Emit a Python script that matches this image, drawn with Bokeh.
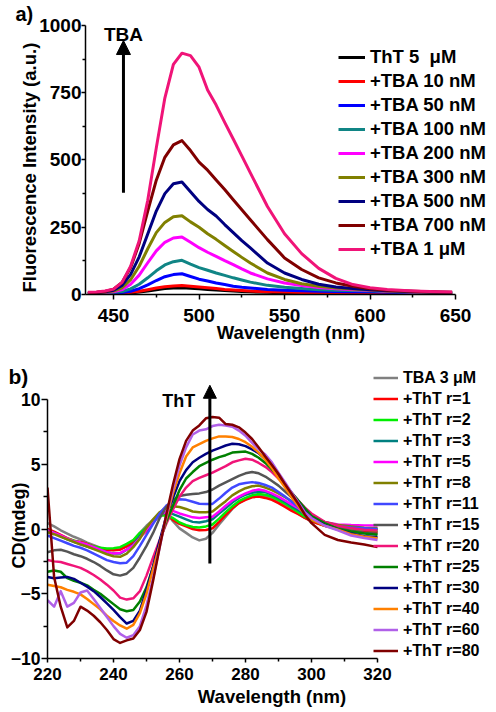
from bokeh.plotting import figure
from bokeh.models import Range1d, Legend, LegendItem, Arrow, NormalHead, Label, FixedTicker, Title
from bokeh.embed import file_html
from bokeh.resources import INLINE

FONT = "Liberation Sans"

# ---------------- panel a) data ----------------
WL_FL = [435, 440, 445, 450, 455, 460, 465, 470, 475, 480, 485, 490, 495, 500, 505, 510,
         515, 520, 525, 530, 540, 550, 560, 570, 580, 590, 600, 610, 620, 630, 640, 648]
FL_LABELS = ["ThT 5  \u03bcM", "+TBA 10 nM", "+TBA 50 nM", "+TBA 100 nM", "+TBA 200 nM",
             "+TBA 300 nM", "+TBA 500 nM", "+TBA 700 nM", "+TBA 1 \u03bcM"]
FL_COLORS = ["#000000", "#ff0000", "#0000ff", "#108585", "#ff00ff",
             "#808000", "#000080", "#800000", "#f01478"]
fl_tht = [2, 2, 2, 3, 4, 6, 9, 13, 18, 22, 24, 25, 23, 21, 19, 17, 15, 13, 11, 10, 8, 6, 5, 4, 4, 3, 3, 3, 2, 2, 2, 2]
fl_10 = [3, 3, 3, 4, 5, 8, 12, 18, 24, 29, 32, 33, 31, 28, 25, 22, 19, 17, 15, 13, 10, 9, 7, 6, 5, 5, 4, 4, 3, 3, 2, 2]
fl_50 = [3, 4, 5, 5, 7, 12, 22, 36, 52, 66, 74, 77, 67, 57, 50, 43, 37, 31, 27, 24, 19, 16, 14, 12, 11, 10, 10, 8, 7, 6, 5, 4]
fl_100 = [4, 5, 6, 8, 11, 21, 38, 62, 88, 110, 122, 127, 113, 100, 90, 80, 71, 62, 54, 46, 34, 27, 22, 18, 16, 15, 14, 11, 9, 7, 6, 5]
fl_200 = [5, 6, 8, 10, 18, 38, 72, 118, 162, 194, 210, 214, 194, 174, 157, 142, 126, 111, 95, 80, 58, 43, 33, 26, 21, 18, 16, 12, 10, 8, 7, 6]
fl_300 = [5, 6, 9, 13, 25, 55, 105, 170, 230, 268, 289, 293, 270, 250, 226, 205, 182, 160, 138, 117, 80, 56, 40, 31, 24, 20, 17, 13, 11, 9, 7, 6]
fl_500 = [5, 7, 10, 16, 34, 75, 140, 225, 310, 375, 412, 418, 382, 346, 316, 292, 260, 230, 200, 173, 117, 80, 56, 38, 28, 22, 18, 14, 12, 10, 8, 7]
fl_700 = [6, 8, 11, 20, 45, 100, 190, 310, 425, 510, 556, 572, 535, 492, 462, 426, 390, 352, 315, 278, 204, 136, 93, 62, 43, 31, 21, 16, 13, 11, 9, 8]
fl_1000 = [8, 9, 13, 20, 45, 105, 200, 350, 545, 730, 855, 897, 888, 845, 760, 704, 640, 578, 515, 452, 327, 226, 152, 97, 60, 37, 25, 19, 15, 12, 10, 9]
FL_SERIES = [fl_tht, fl_10, fl_50, fl_100, fl_200, fl_300, fl_500, fl_700, fl_1000]

# ---------------- panel b) data ----------------
WL_CD = [220, 222, 224, 226, 228, 230, 232, 234, 236, 238,
         240, 242, 244, 246, 248, 250, 252, 254, 256, 258,
         260, 262, 264, 266, 268, 270, 272, 274, 276, 278,
         280, 282, 284, 286, 288, 290, 292, 294, 296, 298,
         300, 304, 308, 312, 316, 320]
CD_LABELS = ["TBA 3 \u03bcM", "+ThT r=1", "+ThT r=2", "+ThT r=3", "+ThT r=5", "+ThT r=8",
             "+ThT r=11", "+ThT r=15", "+ThT r=20", "+ThT r=25", "+ThT r=30", "+ThT r=40",
             "+ThT r=60", "+ThT r=80"]
CD_COLORS = ["#808080", "#ff0000", "#00ee00", "#008080", "#ff00ff", "#808000",
             "#4048ff", "#555555", "#f01478", "#008000", "#000080", "#ff8000",
             "#b060e8", "#800000"]
cd_tba = [0.45, 0.2, -0.1, -0.35, -0.6, -0.8, -1.05, -1.25, -1.45, -1.6,
          -1.62, -1.55, -1.3, -0.9, -0.3, 0.25, 0.7, 1.15, 1.3, 0.6,
          0.05, -0.3, -0.65, -0.88, -0.75, -0.3, 0.35, 0.95, 1.55, 2.0,
          2.3, 2.5, 2.6, 2.5, 2.35, 2.1, 1.8, 1.5, 1.2, 0.85,
          0.6, 0.25, 0.0, -0.1, -0.2, -0.25]
cd_r1 = [0.0, -0.2, -0.45, -0.7, -0.9, -1.0, -1.15, -1.35, -1.5, -1.62,
         -1.65, -1.6, -1.35, -1.05, -0.6, -0.15, 0.55, 1.05, 1.2, 0.7,
         0.4, 0.2, 0.0, -0.1, -0.08, 0.05, 0.55, 1.1, 1.6, 2.0,
         2.25, 2.45, 2.5, 2.4, 2.25, 2.0, 1.7, 1.4, 1.15, 0.85,
         0.6, 0.25, 0.05, -0.1, -0.2, -0.25]
cd_r2 = [-0.1, -0.3, -0.55, -0.75, -0.9, -1.05, -1.2, -1.35, -1.45, -1.5,
         -1.48, -1.4, -1.15, -0.85, -0.3, 0.1, 0.55, 1.05, 1.05, 0.85,
         0.5, 0.3, 0.15, 0.12, 0.2, 0.35, 0.8, 1.3, 1.75, 2.15,
         2.4, 2.6, 2.7, 2.65, 2.5, 2.25, 1.95, 1.65, 1.3, 0.95,
         0.7, 0.32, 0.1, 0.0, -0.05, -0.12]
cd_r3 = [-0.1, -0.3, -0.55, -0.8, -1.0, -1.15, -1.35, -1.5, -1.65, -1.8,
         -1.9, -1.9, -1.6, -1.2, -0.55, 0.1, 0.6, 1.15, 1.25, 1.15,
         0.95, 0.75, 0.55, 0.5, 0.6, 0.75, 1.2, 1.6, 2.05, 2.4,
         2.65, 2.8, 2.9, 2.85, 2.65, 2.4, 2.1, 1.75, 1.45, 1.15,
         0.9, 0.45, 0.2, 0.08, 0.02, 0.0]
cd_r5 = [-0.1, -0.3, -0.5, -0.75, -0.95, -1.05, -1.2, -1.4, -1.6, -1.8,
         -1.9, -1.85, -1.6, -1.25, -0.7, -0.05, 0.5, 1.1, 1.35, 1.4,
         1.2, 1.05, 0.9, 0.85, 0.9, 0.95, 1.35, 1.8, 2.2, 2.5,
         2.75, 2.95, 3.05, 2.95, 2.75, 2.5, 2.2, 1.9, 1.6, 1.25,
         0.95, 0.55, 0.35, 0.3, 0.28, 0.27]
cd_r8 = [-0.25, -0.4, -0.6, -0.8, -1.0, -1.2, -1.35, -1.55, -1.75, -1.95,
         -2.1, -2.15, -1.9, -1.4, -0.75, 0.1, 0.75, 1.3, 1.65, 1.75,
         1.7, 1.55, 1.35, 1.3, 1.3, 1.35, 1.75, 2.15, 2.6, 2.9,
         3.15, 3.3, 3.35, 3.2, 3.0, 2.75, 2.45, 2.15, 1.8, 1.4,
         1.0, 0.55, 0.3, 0.2, 0.1, 0.06]
cd_r11 = [-0.5, -0.7, -0.9, -1.1, -1.3, -1.45, -1.65, -1.9, -2.15, -2.4,
          -2.55, -2.65, -2.6, -2.1, -1.3, -0.45, 0.4, 1.2, 1.8, 2.1,
          2.3, 2.25, 2.1, 1.95, 1.94, 1.94, 2.35, 2.8, 3.2, 3.45,
          3.55, 3.62, 3.55, 3.4, 3.2, 2.85, 2.5, 2.1, 1.7, 1.3,
          0.95, 0.45, 0.22, 0.12, 0.05, 0.0]
cd_r15 = [-1.8, -1.65, -1.6, -1.75, -1.95, -2.1, -2.3, -2.55, -2.85, -3.2,
          -3.5, -3.6, -3.45, -3.0, -2.2, -1.3, -0.3, 0.85, 1.7, 2.25,
          2.55, 2.65, 2.7, 2.75, 2.85, 3.05, 3.35, 3.6, 3.85, 4.1,
          4.3, 4.4, 4.3, 4.05, 3.7, 3.35, 2.9, 2.45, 1.9, 1.35,
          1.05, 0.45, 0.1, -0.15, -0.28, -0.37]
cd_r20 = [-2.4, -2.5, -2.55, -2.7, -2.85, -3.0, -3.25, -3.55, -3.9, -4.3,
          -4.75, -5.3, -5.45, -5.35, -4.8, -3.6, -2.2, -0.85, 0.4, 1.5,
          2.5, 3.2, 3.7, 3.95, 4.15, 4.35, 4.6, 4.85, 5.15, 5.3,
          5.42, 5.35, 5.1, 4.8, 4.4, 3.9, 3.4, 2.8, 2.2, 1.65,
          1.2, 0.55, 0.25, 0.05, -0.05, -0.12]
cd_r25 = [-3.3, -3.2, -3.3, -3.8, -4.0, -4.15, -4.35, -4.7, -5.0, -5.4,
          -5.8, -6.2, -6.35, -6.25, -5.6, -4.5, -2.9, -1.0, 0.6, 1.8,
          3.0, 3.9, 4.4, 4.85, 5.1, 5.35, 5.55, 5.7, 5.9, 5.95,
          5.98, 5.8, 5.5, 5.1, 4.6, 4.05, 3.45, 2.8, 2.2, 1.6,
          1.0, 0.45, 0.0, -0.2, -0.35, -0.45]
cd_r30 = [-3.7, -3.8, -3.75, -3.7, -3.85, -4.15, -4.45, -4.8, -5.25, -5.75,
          -6.25, -6.8, -7.3, -7.1, -6.3, -4.7, -2.9, -0.9, 1.0, 2.4,
          3.7, 4.55, 5.15, 5.5, 5.8, 6.05, 6.25, 6.45, 6.58, 6.55,
          6.4, 6.15, 5.85, 5.4, 4.8, 4.1, 3.4, 2.7, 2.05, 1.35,
          0.85, 0.3, -0.05, -0.35, -0.55, -0.63]
cd_r40 = [-4.3, -4.4, -4.5, -4.7, -4.85, -5.05, -5.4, -5.8, -6.2, -6.7,
          -7.1, -7.45, -7.7, -7.4, -6.5, -5.0, -3.1, -1.2, 0.85, 2.75,
          4.3, 5.6, 6.3, 6.55, 6.8, 7.0, 7.15, 7.15, 7.1, 6.95,
          6.7, 6.35, 5.9, 5.35, 4.7, 3.9, 3.2, 2.45, 1.75, 1.1,
          0.75, 0.25, -0.05, -0.4, -0.6, -0.72]
cd_r60 = [-5.5, -6.0, -4.8, -6.0, -5.7, -4.9, -4.75, -5.4, -6.1, -6.8,
          -7.5, -8.1, -8.4, -8.2, -7.5, -5.9, -3.8, -1.4, 1.0, 3.1,
          4.9, 6.3, 7.3, 7.6, 7.7, 7.95, 8.05, 8.0, 7.9, 7.6,
          7.2, 6.65, 6.15, 5.75, 5.15, 4.35, 3.6, 2.8, 2.05, 1.3,
          0.85, 0.25, -0.1, -0.5, -0.7, -0.85]
cd_r80 = [3.2, -3.7, -6.0, -7.6, -7.1, -6.0, -6.3, -6.7, -7.2, -7.8,
          -8.5, -8.8, -8.6, -8.45, -7.8, -6.4, -4.0, -1.4, 1.1, 3.4,
          5.4, 6.8, 7.6, 8.0, 8.55, 8.65, 8.6, 8.1, 8.05, 7.85,
          7.45, 6.95, 6.3, 5.6, 4.95, 4.25, 3.45, 2.7, 1.95, 1.1,
          0.45, -0.45, -0.85, -1.05, -1.2, -1.4]
CD_SERIES = [cd_tba, cd_r1, cd_r2, cd_r3, cd_r5, cd_r8, cd_r11, cd_r15, cd_r20,
             cd_r25, cd_r30, cd_r40, cd_r60, cd_r80]

FL_XTICKS = [450, 500, 550, 600, 650]
FL_XMINOR = [475, 525, 575, 625]
FL_YTICKS = [0, 250, 500, 750, 1000]
FL_YMINOR = [125, 375, 625, 875]
CD_XTICKS = [220, 240, 260, 280, 300, 320]
CD_XMINOR = [230, 250, 270, 290, 310]
CD_YTICKS = [-10, -5, 0, 5, 10]
CD_YMINOR = [-7.5, -2.5, 2.5, 7.5]


def style_axis(ax, tick_size, label_size, tick_out, minor_out, standoff, label_standoff):
    ax.axis_line_width = 1.5
    ax.axis_line_color = "black"
    ax.major_tick_line_width = 1.5
    ax.minor_tick_line_width = 1.5
    ax.major_tick_line_color = "black"
    ax.minor_tick_line_color = "black"
    ax.major_tick_in = 0
    ax.major_tick_out = tick_out
    ax.minor_tick_in = 0
    ax.minor_tick_out = minor_out
    ax.major_label_standoff = standoff
    ax.major_label_text_font = FONT
    ax.major_label_text_font_style = "bold"
    ax.major_label_text_font_size = tick_size
    ax.major_label_text_color = "black"
    ax.axis_label_text_font = FONT
    ax.axis_label_text_font_style = "bold"
    ax.axis_label_text_font_size = label_size
    ax.axis_label_text_color = "black"
    ax.axis_label_standoff = label_standoff


def style_title(t, size, offset, standoff):
    t.text_font = FONT
    t.text_font_style = "bold"
    t.text_font_size = size
    t.text_color = "black"
    t.align = "left"
    t.vertical_align = "bottom"
    t.offset = offset
    t.standoff = standoff


# ---------------- figure a) ----------------
p1 = figure(width=496, height=345, x_range=Range1d(433.6, 673.95), y_range=Range1d(0, 1040.7),
            output_backend="svg", toolbar_location=None, title="a)",
            min_border_left=85, min_border_right=0, min_border_top=14, min_border_bottom=50,
            x_axis_label="Wavelength (nm)")
style_title(p1.title, "20px", -70, -20)
p1.xgrid.visible = False
p1.ygrid.visible = False
p1.outline_line_color = None
p1.xaxis.ticker = FixedTicker(ticks=FL_XTICKS, minor_ticks=FL_XMINOR)
p1.yaxis.ticker = FixedTicker(ticks=FL_YTICKS, minor_ticks=FL_YMINOR)
p1.xaxis.bounds = (433.6, 650)
p1.yaxis.bounds = (0, 1000)
style_axis(p1.xaxis[0], "19px", "18.5px", 5, 3, 9, -3)
style_axis(p1.yaxis[0], "19px", "18.5px", 4, 3, 0, 0)
ylab1 = Title(text="Fluorescence Intensity (a.u.)")
style_title(ylab1, "18.5px", 2, -6)
p1.add_layout(ylab1, "left")

items1 = []
for lab, col, ys in zip(FL_LABELS, FL_COLORS, FL_SERIES):
    r = p1.line(WL_FL, ys, line_color=col, line_width=3, line_join="round")
    items1.append(LegendItem(label=lab, renderers=[r]))
leg1 = Legend(items=items1, location=(253, 33), border_line_color=None, background_fill_alpha=0,
              padding=0, margin=0, spacing=0, glyph_width=27, glyph_height=24, label_height=24,
              label_standoff=5, label_text_font=FONT, label_text_font_style="bold",
              label_text_font_size="18.5px", label_text_color="black")
p1.add_layout(leg1)
p1.add_layout(Arrow(end=NormalHead(size=14, fill_color="black", line_color="black"),
                    x_start=455.8, y_start=378, x_end=455.8, y_end=944,
                    line_width=3, line_color="black"))
p1.add_layout(Label(x=455.8, y=965, text="TBA", text_align="center", text_baseline="alphabetic",
                    text_font=FONT, text_font_style="bold", text_font_size="19px", text_color="black"))

# ---------------- figure b) ----------------
p2 = figure(width=496, height=367, x_range=Range1d(220, 356.06), y_range=Range1d(-10, 12.394),
            output_backend="svg", toolbar_location=None, title="b)",
            min_border_left=47, min_border_right=0, min_border_top=23, min_border_bottom=54,
            x_axis_label="Wavelength (nm)")
style_title(p2.title, "21px", -39, -39)
p2.xgrid.visible = False
p2.ygrid.visible = False
p2.outline_line_color = None
p2.xaxis.ticker = FixedTicker(ticks=CD_XTICKS, minor_ticks=CD_XMINOR)
p2.yaxis.ticker = FixedTicker(ticks=CD_YTICKS, minor_ticks=CD_YMINOR)
p2.xaxis.bounds = (220, 320)
p2.yaxis.bounds = (-10, 10)
style_axis(p2.xaxis[0], "17px", "18.5px", 4, 3, 5, 3)
style_axis(p2.yaxis[0], "17.5px", "18px", 6, 4, 1, 0)
ylab2 = Title(text="CD(mdeg)")
style_title(ylab2, "18px", 90, -43)
p2.add_layout(ylab2, "left")

items2 = []
for lab, col, ys in zip(CD_LABELS, CD_COLORS, CD_SERIES):
    r = p2.line(WL_CD, ys, line_color=col, line_width=2.5, line_join="round")
    items2.append(LegendItem(label=lab, renderers=[r]))
leg2 = Legend(items=items2, location=(326, -3), border_line_color=None, background_fill_alpha=0,
              padding=0, margin=0, spacing=0, glyph_width=25, glyph_height=21, label_height=21,
              label_standoff=5, label_text_font=FONT, label_text_font_style="bold",
              label_text_font_size="16px", label_text_color="black")
p2.add_layout(leg2)
p2.add_layout(Arrow(end=NormalHead(size=13, fill_color="black", line_color="black"),
                    x_start=269.2, y_start=-2.66, x_end=269.2, y_end=11.1,
                    line_width=3, line_color="black"))
p2.add_layout(Label(x=264.8, y=9.92, text="ThT", text_align="right", text_baseline="alphabetic",
                    text_font=FONT, text_font_style="bold", text_font_size="18px", text_color="black"))

open("out.html", "w").write(file_html([p1, p2], INLINE))
